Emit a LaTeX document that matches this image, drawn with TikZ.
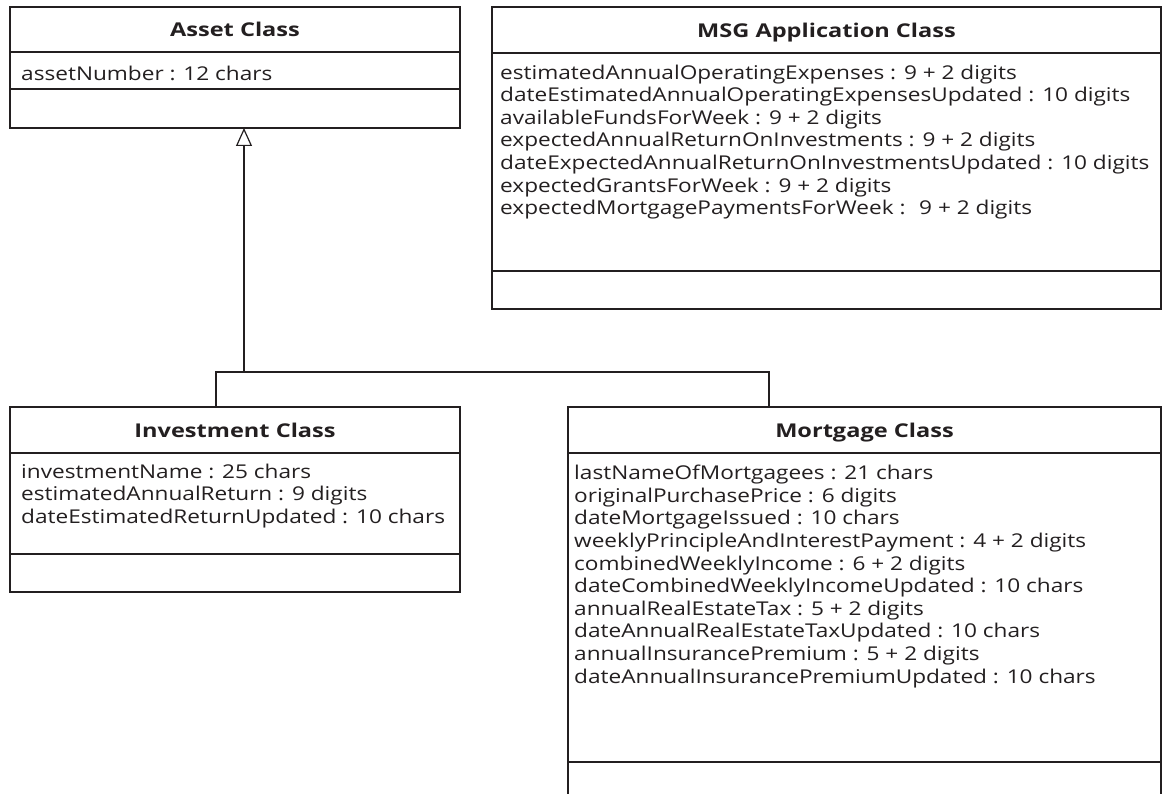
\documentclass[tikz,border=0pt]{standalone}
\usepackage{fontspec}
\setmainfont{Open Sans}[FakeStretch=1.19]
\newfontfamily\hdrfont{Open Sans}[FakeStretch=1.24]
\usetikzlibrary{arrows.meta,positioning}
\definecolor{inkC}{HTML}{231F20}
\tikzset{
  cls/.style={draw=inkC, line width=1.5pt, rectangle, inner sep=0pt, outer sep=0pt},
  hdr/.style={cls, anchor=north west, align=center, text=inkC, text height=14.5pt, text depth=0pt,
              font=\hdrfont\bfseries\fontsize{19}{23}\selectfont},
  part/.style={cls},
  attr/.style={anchor=north west, align=left, inner sep=0pt, text=inkC, font=\fontsize{19}{22.6}\selectfont},
  link/.style={draw=inkC, line width=1.2pt},
  gen/.style={link, -{Triangle[open, length=18pt, width=16pt, line width=1.2pt]}},
}
\begin{document}
\begin{tikzpicture}[x=1pt, y=-1pt]
\useasboundingbox (0,0) rectangle (1166,794);
% asset
\node[hdr, minimum width=450pt, minimum height=45pt] (AssetT) at (10,7) {Asset Class};
\node[part, minimum width=450pt, minimum height=37pt, below=0pt of AssetT] (AssetA) {};
\node[part, minimum width=450pt, minimum height=39pt, below=0pt of AssetA] (AssetO) {};
\node[attr] (AssetL) at ([shift={(11,13.5)}]AssetA.north west) {assetNumber : 12 chars};
% msg application
\node[hdr, minimum width=669pt, minimum height=46pt] (MsgT) at (492,7) {MSG Application Class};
\node[part, minimum width=669pt, minimum height=218pt, below=0pt of MsgT] (MsgA) {};
\node[part, minimum width=669pt, minimum height=38pt, below=0pt of MsgA] (MsgO) {};
\node[attr] (MsgL) at ([shift={(8,11.5)}]MsgA.north west) {estimatedAnnualOperatingExpenses : 9 + 2 digits\\
dateEstimatedAnnualOperatingExpensesUpdated : 10 digits\\
availableFundsForWeek : 9 + 2 digits\\
expectedAnnualReturnOnInvestments : 9 + 2 digits\\
dateExpectedAnnualReturnOnInvestmentsUpdated : 10 digits\\
expectedGrantsForWeek : 9 + 2 digits\\
expectedMortgagePaymentsForWeek : \ 9 + 2 digits};
% investment
\node[hdr, minimum width=450pt, minimum height=46pt] (InvT) at (10,407) {Investment Class};
\node[part, minimum width=450pt, minimum height=101pt, below=0pt of InvT] (InvA) {};
\node[part, minimum width=450pt, minimum height=38pt, below=0pt of InvA] (InvO) {};
\node[attr] (InvL) at ([shift={(11,10.5)}]InvA.north west) {investmentName : 25 chars\\
estimatedAnnualReturn : 9 digits\\
dateEstimatedReturnUpdated : 10 chars};
% mortgage
\node[hdr, minimum width=593pt, minimum height=46pt] (MortT) at (568,407) {Mortgage Class};
\node[part, minimum width=593pt, minimum height=309pt, below=0pt of MortT] (MortA) {};
\node[part, draw=none, minimum width=593pt, minimum height=32pt, below=0pt of MortA] (MortO) {};
\draw[link, line width=1.5pt] (MortO.north west) -- (MortO.south west)
  (MortO.north east) -- (MortO.south east);
\node[attr] (MortL) at ([shift={(6,12)}]MortA.north west) {lastNameOfMortgagees : 21 chars\\
originalPurchasePrice : 6 digits\\
dateMortgageIssued : 10 chars\\
weeklyPrincipleAndInterestPayment : 4 + 2 digits\\
combinedWeeklyIncome : 6 + 2 digits\\
dateCombinedWeeklyIncomeUpdated : 10 chars\\
annualRealEstateTax : 5 + 2 digits\\
dateAnnualRealEstateTaxUpdated : 10 chars\\
annualInsurancePremium : 5 + 2 digits\\
dateAnnualInsurancePremiumUpdated : 10 chars};
% generalisation
\coordinate (J) at (244,372);
\coordinate (Ji) at (216,372);
\coordinate (Jm) at (769,372);
\draw[link] (Ji |- InvT.north) -- (Ji) -- (Jm) -- (Jm |- MortT.north);
\draw[gen] (J) -- (J |- AssetO.south);
\end{tikzpicture}
\end{document}
